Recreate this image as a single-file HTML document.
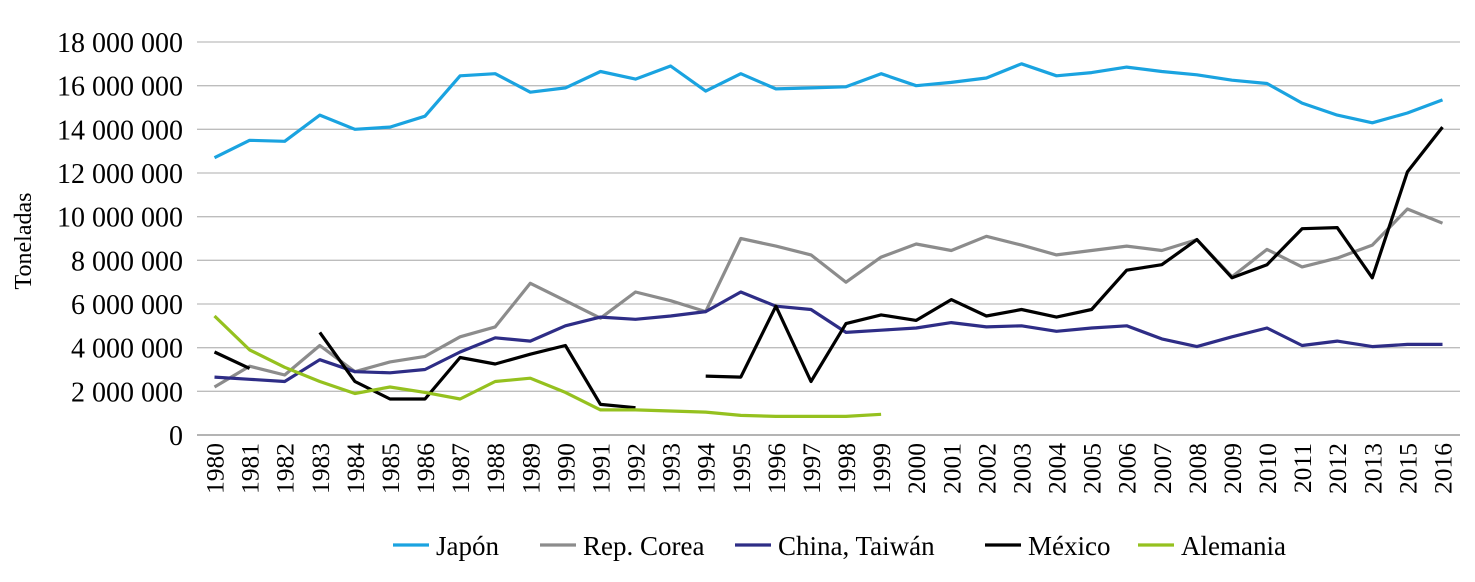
<!DOCTYPE html>
<html><head><meta charset="utf-8"><style>
body{margin:0;background:#fff;}
svg text{font-family:"Liberation Serif",serif;fill:#000;}
</style></head><body>
<svg id="chart" width="1475" height="577" xmlns="http://www.w3.org/2000/svg"></svg>
<script>
const categories=["1980","1981","1982","1983","1984","1985","1986","1987","1988","1989","1990","1991","1992","1993","1994","1995","1996","1997","1998","1999","2000","2001","2002","2003","2004","2005","2006","2007","2008","2009","2010","2011","2012","2013","2015","2016"];
const japon=[12.7,13.5,13.45,14.65,14.0,14.1,14.6,16.45,16.55,15.7,15.9,16.65,16.3,16.9,15.75,16.55,15.85,15.9,15.95,16.55,16.0,16.15,16.35,17.0,16.45,16.6,16.85,16.65,16.5,16.25,16.1,15.2,14.65,14.3,14.75,15.35];
const corea=[2.2,3.15,2.75,4.1,2.9,3.35,3.6,4.5,4.95,6.95,6.15,5.35,6.55,6.15,5.65,9.0,8.65,8.25,7.0,8.15,8.75,8.45,9.1,8.7,8.25,8.45,8.65,8.45,8.95,7.25,8.5,7.7,8.1,8.7,10.35,9.7];
const taiwan=[2.65,2.55,2.45,3.45,2.9,2.85,3.0,3.8,4.45,4.3,5.0,5.4,5.3,5.45,5.65,6.55,5.9,5.75,4.7,4.8,4.9,5.15,4.95,5.0,4.75,4.9,5.0,4.4,4.05,4.5,4.9,4.1,4.3,4.05,4.15,4.15];
const mexico=[3.8,3.05,null,4.7,2.45,1.65,1.65,3.55,3.25,3.7,4.1,1.4,1.25,null,2.7,2.65,5.9,2.45,5.1,5.5,5.25,6.2,5.45,5.75,5.4,5.75,7.55,7.8,8.95,7.2,7.8,9.45,9.5,7.2,12.05,14.1];
const alemania=[5.45,3.9,3.1,2.45,1.9,2.2,1.95,1.65,2.45,2.6,1.95,1.15,1.15,1.1,1.05,0.9,0.85,0.85,0.85,0.95,null,null,null,null,null,null,null,null,null,null,null,null,null,null,null,null];
const yTicks=[0,2,4,6,8,10,12,14,16,18];
const yTickLabels=["0","2 000 000","4 000 000","6 000 000","8 000 000","10 000 000","12 000 000","14 000 000","16 000 000","18 000 000"];
const seriesNames=["Japón","Rep. Corea","China, Taiwán","México","Alemania"];

const svg=document.getElementById('chart');
const NS="http://www.w3.org/2000/svg";
const L=197,R=1460,T=42,B=435;
const band=(R-L)/categories.length;
const x=i=>L+band*(i+0.5);
const y=v=>B-(v/18)*(B-T);
function mk(tag,attrs,parent){const e=document.createElementNS(NS,tag);for(const k in attrs)e.setAttribute(k,attrs[k]);(parent||svg).appendChild(e);return e;}

yTicks.forEach((t,i)=>{
  const g=mk('line',{x1:L,x2:R,y1:y(t),y2:y(t),stroke:i===0?'#888':'#bdbdbd','stroke-width':1.3});
  
  
  const tx=mk('text',{x:183,y:y(t)+10,'text-anchor':'end','font-size':28});
  tx.textContent=yTickLabels[i];
  
  
});
categories.forEach((c,i)=>{
  const tx=mk('text',{transform:`translate(${x(i)+9},443) rotate(-90)`,'text-anchor':'end','font-size':25.5});
  tx.textContent=c;
  
  
});
const yt=mk('text',{transform:'translate(31,241) rotate(-90)','text-anchor':'middle','font-size':24});
yt.textContent='Toneladas';



const colors=['#1aa3e0','#8c8c8c','#2e2d86','#000000','#95c11f'];
const data=[japon,corea,taiwan,mexico,alemania];
const keys=['japon','rep-corea','china-taiwan','mexico','alemania'];
data.forEach((arr,s)=>{
  let d='',pen=false;
  arr.forEach((v,i)=>{
    if(v===null){pen=false;return;}
    d+=(pen?'L':'M')+x(i).toFixed(1)+','+y(v).toFixed(1);pen=true;
  });
  const p=mk('path',{d:d,fill:'none',stroke:colors[s],'stroke-width':3.2,'stroke-linejoin':'round'});
  
  
});

const lx=[393,540,735,985,1138];
seriesNames.forEach((n,s)=>{
  const g=mk('g',{});
  
  
  mk('line',{x1:lx[s],x2:lx[s]+36,y1:545,y2:545,stroke:colors[s],'stroke-width':3.2},g);
  const t=mk('text',{x:lx[s]+43,y:555,'font-size':27},g);
  t.textContent=n;
});
</script>
</body></html>
